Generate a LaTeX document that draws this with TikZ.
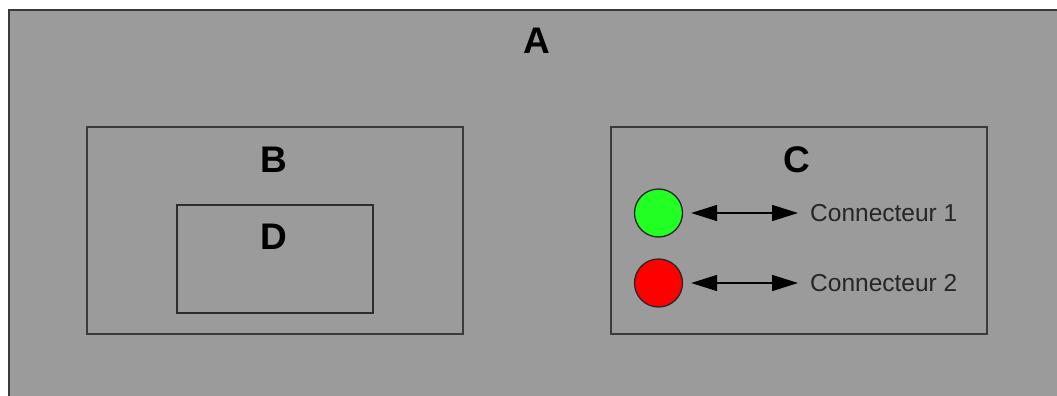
\documentclass[tikz,border=0pt]{standalone}
\usepackage{fontspec}
\setmainfont{Liberation Sans}
\usetikzlibrary{arrows.meta}
\definecolor{panel}{HTML}{9B9B9B}
\definecolor{edge}{HTML}{3A3A3A}
\definecolor{lgreen}{HTML}{22FF22}
\definecolor{lred}{HTML}{FF0000}
\tikzset{
  box/.style={draw=edge, line width=2.2pt, fill=panel, rectangle, inner sep=0pt},
  inbox/.style={draw=edge!80!black, line width=1.6pt, rectangle, inner sep=0pt},
  lbl/.style={font=\fontsize{37}{40}\selectfont\bfseries, inner sep=0pt, text=black},
  dot/.style={circle, draw=black!85, line width=1.3pt, minimum size=48pt, inner sep=0pt},
  ctext/.style={font=\fontsize{24.5}{28}\selectfont, text=black!85, inner sep=0pt, anchor=west},
  conn/.style={{Triangle[length=26pt,width=16pt]}-{Triangle[length=26pt,width=16pt]}, line width=1.5pt, black}
}
\begin{document}
\begin{tikzpicture}[x=1pt,y=-1pt]
\useasboundingbox (0,0) rectangle (1057,396);
\clip (0,0) rectangle (1057,396);
\fill[white] (0,0) rectangle (1057,396);
% A
\node[box, minimum width=1100pt, minimum height=430pt] (A) at (559,225) {};
\node[lbl] (Alab) at (537,40.5) {A};
% B and D
\node[box, minimum width=376pt, minimum height=207pt] (B) at (275,230.5) {};
\node[lbl] (Blab) at (274,159.5) {B};
\node[inbox, minimum width=196pt, minimum height=108pt] (D) at (275,259) {};
\node[lbl] (Dlab) at (274,237) {D};
% C
\node[box, minimum width=376pt, minimum height=207pt] (C) at (799,230.5) {};
\node[lbl] (Clab) at (797,159.5) {C};
\node[dot, fill=lgreen] (g) at (658.5,213) {};
\node[dot, fill=lred] (r) at (658.5,283) {};
\node[ctext] (t1) at (810,213) {Connecteur 1};
\node[ctext] (t2) at (810,283) {Connecteur 2};
\draw[conn, shorten <=8pt, shorten >=12pt] (g) -- (t1);
\draw[conn, shorten <=8pt, shorten >=12pt] (r) -- (t2);
\end{tikzpicture}
\end{document}
